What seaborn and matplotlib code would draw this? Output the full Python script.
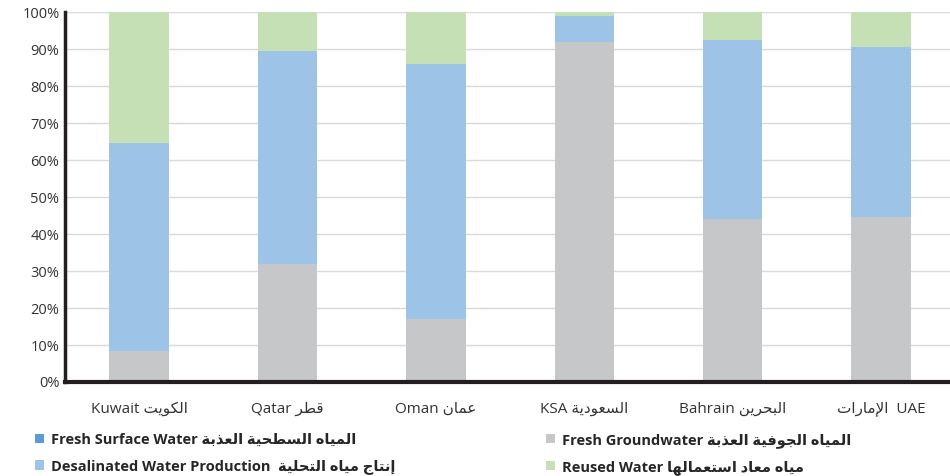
import matplotlib
matplotlib.use("Agg")
import matplotlib.pyplot as plt
import seaborn as sns
import pandas as pd
import numpy as np
from matplotlib.patches import Patch

# data (percent of total water supply)
countries_en = ["Kuwait", "Qatar", "Oman", "KSA", "Bahrain", "UAE"]
countries_ar = ["الكويت", "قطر", "عمان", "السعودية", "البحرين", "الإمارات"]
surface_water = [0.0, 0.0, 0.0, 0.0, 0.0, 0.0]
groundwater = [8.5, 32.0, 17.0, 92.0, 44.0, 44.5]
desalinated = [56.0, 57.5, 69.0, 7.0, 48.5, 46.0]
reused = [35.5, 10.5, 14.0, 1.0, 7.5, 9.5]

series_en = ["Fresh Surface Water", "Fresh Groundwater",
             "Desalinated Water Production", "Reused Water"]
series_ar = ["المياه السطحية العذبة", "المياه الجوفية العذبة",
             "إنتاج مياه التحلية", "مياه معاد استعمالها"]
colors = ["#5B9BD5", "#C6C7C8", "#9DC3E6", "#C5E0B4"]

# --- minimal arabic shaping (no reshaper lib available) ---
FORMS = {  # isolated, final, initial, medial
    "ا": ("\uFE8D", "\uFE8E", None, None),
    "أ": ("\uFE83", "\uFE84", None, None),
    "إ": ("\uFE87", "\uFE88", None, None),
    "ب": ("\uFE8F", "\uFE90", "\uFE91", "\uFE92"),
    "ة": ("\uFE93", "\uFE94", None, None),
    "ت": ("\uFE95", "\uFE96", "\uFE97", "\uFE98"),
    "ج": ("\uFE9D", "\uFE9E", "\uFE9F", "\uFEA0"),
    "ح": ("\uFEA1", "\uFEA2", "\uFEA3", "\uFEA4"),
    "د": ("\uFEA9", "\uFEAA", None, None),
    "ذ": ("\uFEAB", "\uFEAC", None, None),
    "ر": ("\uFEAD", "\uFEAE", None, None),
    "س": ("\uFEB1", "\uFEB2", "\uFEB3", "\uFEB4"),
    "ط": ("\uFEC1", "\uFEC2", "\uFEC3", "\uFEC4"),
    "ع": ("\uFEC9", "\uFECA", "\uFECB", "\uFECC"),
    "ف": ("\uFED1", "\uFED2", "\uFED3", "\uFED4"),
    "ق": ("\uFED5", "\uFED6", "\uFED7", "\uFED8"),
    "ك": ("\uFED9", "\uFEDA", "\uFEDB", "\uFEDC"),
    "ل": ("\uFEDD", "\uFEDE", "\uFEDF", "\uFEE0"),
    "م": ("\uFEE1", "\uFEE2", "\uFEE3", "\uFEE4"),
    "ن": ("\uFEE5", "\uFEE6", "\uFEE7", "\uFEE8"),
    "ه": ("\uFEE9", "\uFEEA", "\uFEEB", "\uFEEC"),
    "و": ("\uFEED", "\uFEEE", None, None),
    "ي": ("\uFEF1", "\uFEF2", "\uFEF3", "\uFEF4"),
}
LAM_ALEF = {"ا": ("\uFEFB", "\uFEFC"), "أ": ("\uFEF7", "\uFEF8"),
            "إ": ("\uFEF9", "\uFEFA")}


def shape(text):
    out = []
    chars = list(text)
    i = 0
    prev_joins = False
    while i < len(chars):
        c = chars[i]
        if c not in FORMS:
            out.append(c)
            prev_joins = False
            i += 1
            continue
        if c == "ل" and i + 1 < len(chars) and chars[i + 1] in LAM_ALEF:
            iso, fin = LAM_ALEF[chars[i + 1]]
            out.append(fin if prev_joins else iso)
            prev_joins = False
            i += 2
            continue
        iso, fin, ini, med = FORMS[c]
        nxt = chars[i + 1] if i + 1 < len(chars) else None
        joins_next = ini is not None and nxt in FORMS
        if prev_joins and joins_next:
            out.append(med)
        elif prev_joins:
            out.append(fin)
        elif joins_next:
            out.append(ini)
        else:
            out.append(iso)
        prev_joins = joins_next
        i += 1
    return "".join(out)[::-1]


tick_labels = [f"{en} {shape(ar)}" for en, ar in zip(countries_en[:-1], countries_ar[:-1])]
tick_labels.append(f"{shape(countries_ar[-1])}  {countries_en[-1]}")
legend_labels = [f"{en} {shape(ar)}" for en, ar in zip(series_en, series_ar)]
legend_labels[2] = f"{series_en[2]}  {shape(series_ar[2])}"

df = pd.DataFrame({
    "country": tick_labels,
    "surface": surface_water,
    "ground": groundwater,
    "desal": desalinated,
    "reused": reused,
})

sns.set_style("white")
fams = ["Open Sans", "DejaVu Sans"]
plt.rcParams["font.family"] = fams

fig = plt.figure(figsize=(9.5, 4.76), dpi=100)
ax = fig.add_axes([0.0684, 0.1975, 0.937, 0.777])

bottom = np.zeros(len(df))
for col, color in zip(["surface", "ground", "desal", "reused"], colors):
    sns.barplot(data=df, x="country", y=col, color=color, width=0.4,
                saturation=1, bottom=bottom, ax=ax, zorder=2, linewidth=0)
    bottom = bottom + df[col].to_numpy()

ax.set_ylim(0, 100)
ax.set_xlim(-0.5, 5.5)
ax.set_yticks(np.arange(0, 101, 10))
ax.set_yticklabels([f"{v}%" for v in range(0, 101, 10)], fontsize=10.5, color="#333333")
ax.tick_params(axis="x", labelsize=11, colors="#333333", length=0, pad=14)
ax.tick_params(axis="y", length=0, pad=4)
ax.set_xlabel("")
ax.set_ylabel("")
ax.yaxis.grid(True, color="#D9D9D9", linewidth=1, zorder=0)
ax.set_axisbelow(True)
for side in ["top", "right"]:
    ax.spines[side].set_visible(False)
ax.spines["left"].set_linewidth(2.5)
ax.spines["left"].set_color("#231F20")
ax.spines["bottom"].set_linewidth(3)
ax.spines["bottom"].set_color("#231F20")

handles = [Patch(facecolor=c, edgecolor="none") for c in colors]
leg_kw = dict(loc="upper left", frameon=False, handlelength=0.6,
              handleheight=0.6, handletextpad=0.5, labelspacing=0.85,
              borderaxespad=0, borderpad=0,
              prop={"weight": "bold", "size": 10.5, "family": fams})
fig.legend([handles[0], handles[2]], [legend_labels[0], legend_labels[2]],
           bbox_to_anchor=(0.037, 0.091), **leg_kw)
fig.legend([handles[1], handles[3]], [legend_labels[1], legend_labels[3]],
           bbox_to_anchor=(0.575, 0.091), **leg_kw)

fig.savefig("out.png", dpi=100)
